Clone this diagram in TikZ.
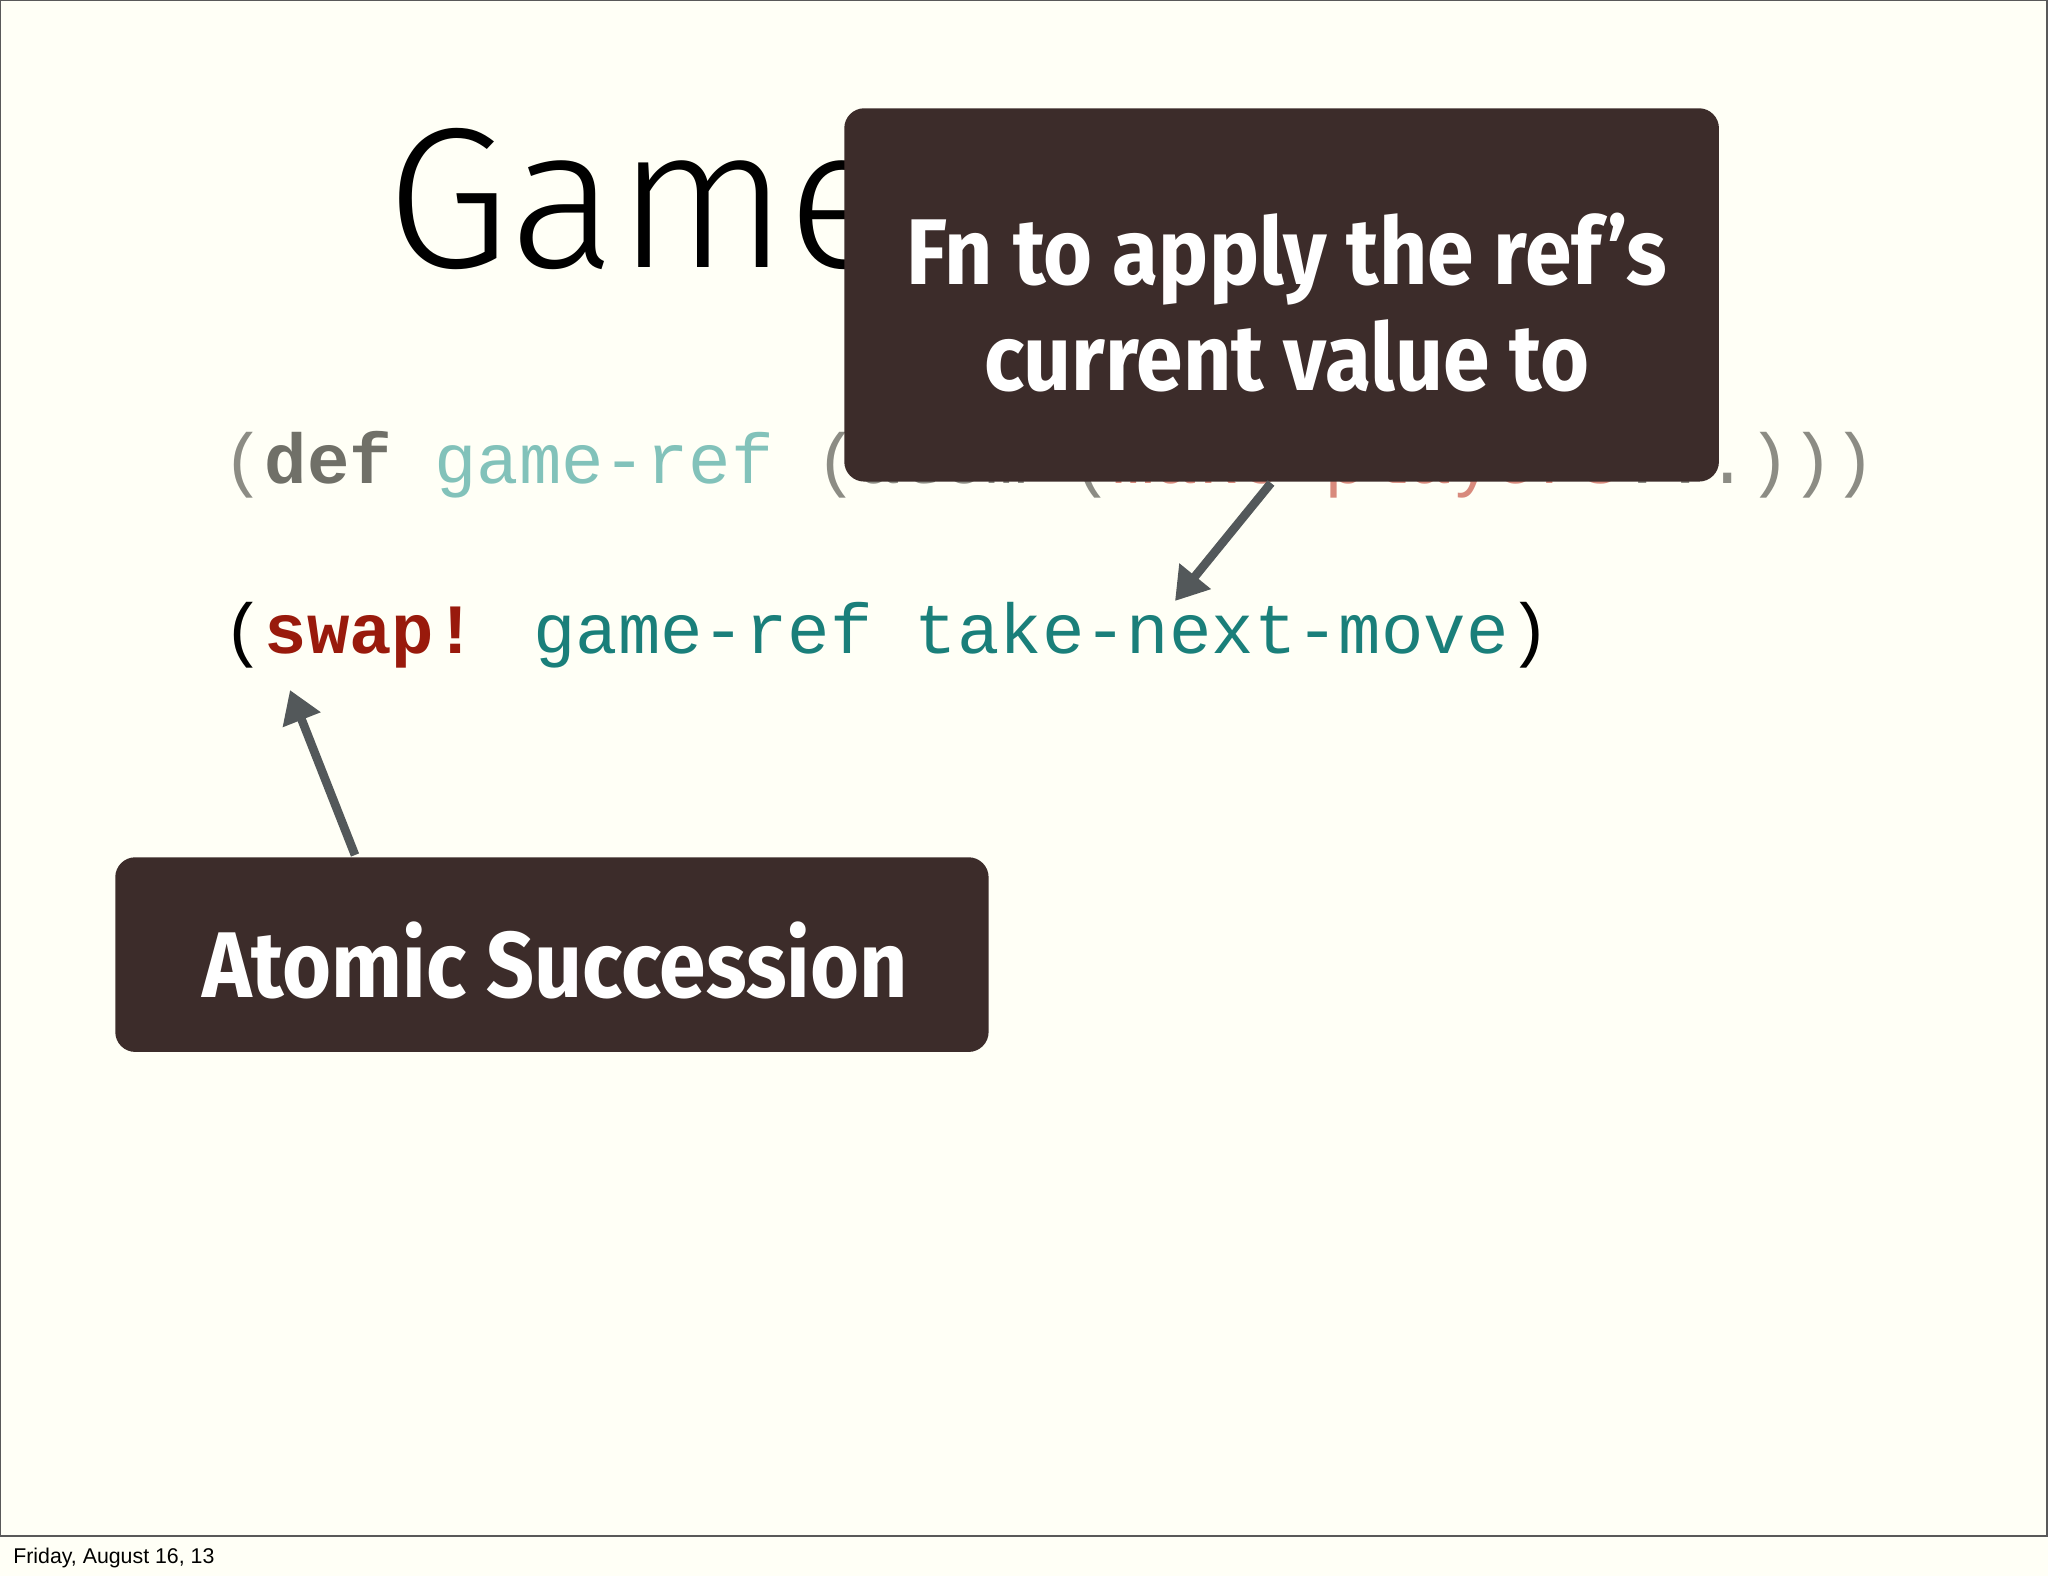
\documentclass[tikz,border=0pt]{standalone}
\usepackage{fontspec}
\setmainfont{Fira Sans}
\newfontfamily\titlefont{Fira Sans Light}
\newfontfamily\callfont{Fira Sans}[FakeStretch=0.9]
\newfontfamily\codefont{Liberation Mono}
\newfontfamily\footfont{Liberation Sans}
\usetikzlibrary{arrows.meta}
\definecolor{bg}{HTML}{FFFFF6}
\definecolor{boxc}{HTML}{3C2C2A}
\definecolor{arr}{HTML}{53585A}
\definecolor{pgray}{HTML}{8C8C84}
\definecolor{dgray}{HTML}{707068}
\definecolor{lteal}{HTML}{82C2BA}
\definecolor{lorange}{HTML}{D88A7C}
\definecolor{dred}{HTML}{991A0C}
\definecolor{teal}{HTML}{1A7F7A}
\tikzset{
  callout/.style={fill=boxc, rounded corners=15pt},
  calltext/.style={text=white, font=\callfont\bfseries\fontsize{70}{80}\selectfont, align=center},
  pointer/.style={draw=arr, line width=6.5pt, -{Triangle[length=24pt,width=29pt]}},
  code/.style={anchor=base west, inner sep=0, font=\codefont\fontsize{53}{60}\selectfont}
}
\begin{document}
\begin{tikzpicture}[x=0.75pt,y=-0.75pt]
\fill[bg] (0,0) rectangle (2048,1576);
\useasboundingbox (0,0) rectangle (2048,1576);
\draw[gray!70!black, line width=1] (0.5,0.5) rectangle (2047,1536);
\node[anchor=base west, inner sep=0, font=\titlefont\fontsize{150}{160}\selectfont] (title) at (386,268) {Game};
% code line 1 (partly hidden)
\node[code] (l1) at (222,483) {\textcolor{pgray}{(}\textcolor{dgray}{\bfseries def} \textcolor{lteal}{game-ref} \textcolor{pgray}{(atom (}\textcolor{lorange}{make-players}\textcolor{pgray}{ ...)))}};
% code line 2
\node[code] (l2) at (222,653) {(\textcolor{dred}{\bfseries swap!} \textcolor{teal}{game-ref take-next-move})};
% callouts
\node[callout, minimum width=656pt, minimum height=280pt, anchor=north west, inner sep=0] (b1) at (844,108) {};
\node[calltext, anchor=base] (t1) at (1287,285) {Fn to apply the ref’s};
\node[calltext, anchor=base] (t1b) at (1287,390) {current value to};
\node[callout, minimum width=655pt, minimum height=146pt, anchor=north west, inner sep=0] (b2) at (115,857) {};
\node[calltext, anchor=base] (t2) at (555,997) {Atomic Succession};
\coordinate (a1s) at (1271,483);
\coordinate (a1e) at (1175,601);
\coordinate (a2s) at (355,855);
\coordinate (a2e) at (290,690);
\draw[pointer] (a1s) -- (a1e);
\draw[pointer] (a2s) -- (a2e);
\node[anchor=base west, inner sep=0, font=\footfont\fontsize{16}{18}\selectfont] (foot) at (13,1563) {Friday, August 16, 13};
\end{tikzpicture}
\end{document}
